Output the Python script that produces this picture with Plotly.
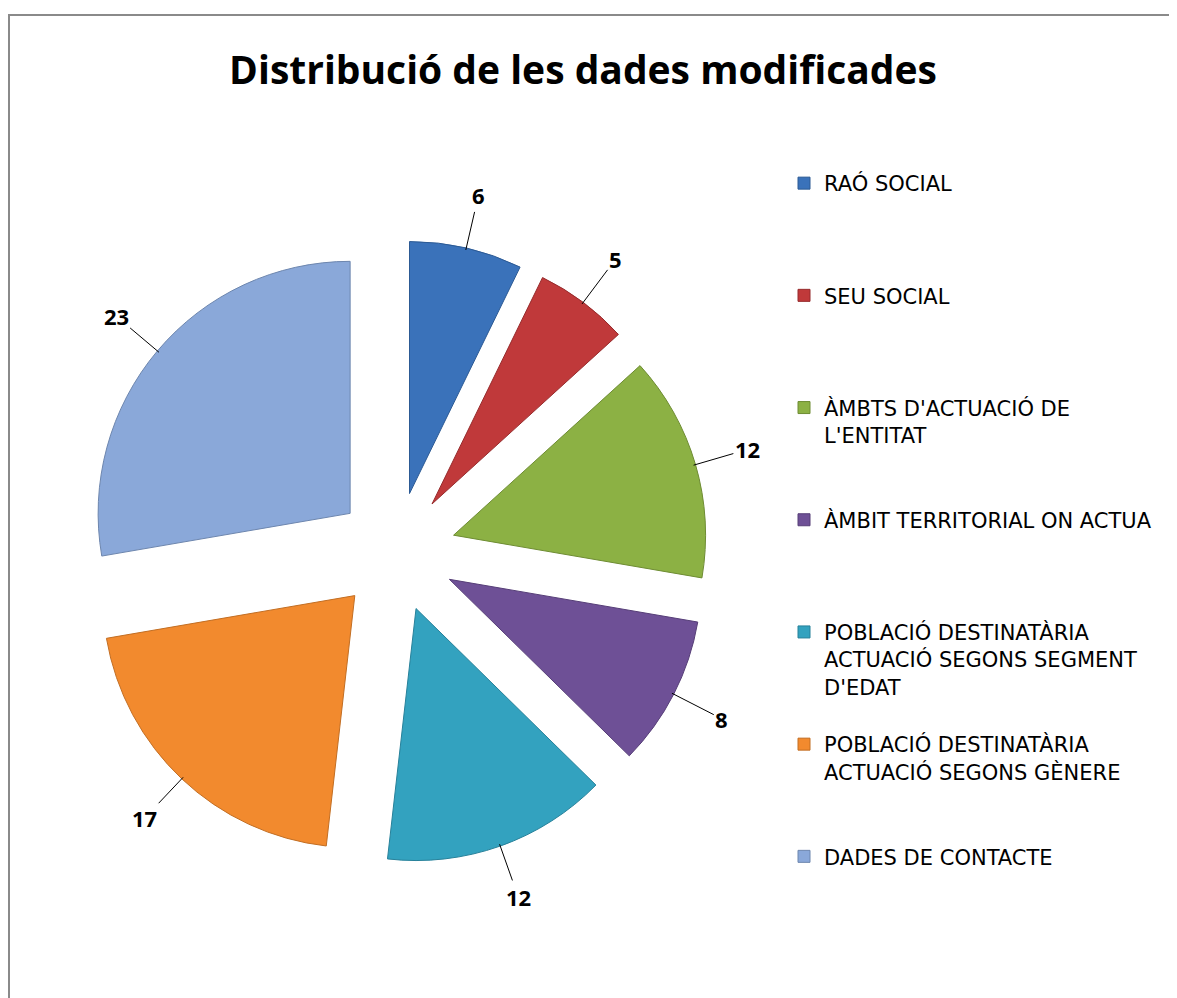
import math
import plotly.graph_objects as go

# ---- data ----
categories = [
    "RAÓ SOCIAL",
    "SEU SOCIAL",
    "ÀMBTS D'ACTUACIÓ DE<br>L'ENTITAT",
    "ÀMBIT TERRITORIAL ON ACTUA",
    "POBLACIÓ DESTINATÀRIA<br>ACTUACIÓ SEGONS SEGMENT<br>D'EDAT",
    "POBLACIÓ DESTINATÀRIA<br>ACTUACIÓ SEGONS GÈNERE",
    "DADES DE CONTACTE",
]
values = [6, 5, 12, 8, 12, 17, 23]
colors = ["#3A72BA", "#C0393A", "#8CB144", "#6E5096", "#33A2BF", "#F28A2E", "#8AA8D9"]
edge_colors = ["#2C5A94", "#962B2C", "#6E8C33", "#563E77", "#27819A", "#C26E23", "#6D86AE"]
title_text = "Distribució de les dades modificades"

# ---- layout constants (page body has an 8px margin, so positions are shifted by 8px) ----
OFF = 8
W, H = 1177 - OFF, 998 - OFF
dom_x = [(84 - OFF) / W, (708 - OFF) / W]
dom_y = [1 - (864 - OFF) / H, 1 - (240 - OFF) / H]
pull = 0.238
LINES_PER_ITEM = 4
FONT = "'Open Sans', Lato, sans-serif"
LEGEND_FONT = "'DejaVu Sans', 'Open Sans', sans-serif"

# pad legend labels so every legend entry takes the same height
legend_labels = []
for c in categories:
    n = c.count("<br>") + 1
    legend_labels.append(c + "<br> " * (LINES_PER_ITEM - n))

fig = go.Figure()
fig.add_trace(go.Pie(
    labels=legend_labels,
    values=values,
    sort=False,
    direction="clockwise",
    rotation=0,
    pull=[pull] * len(values),
    marker=dict(colors=colors, line=dict(width=1, color=edge_colors)),
    textinfo="none",
    domain=dict(x=dom_x, y=dom_y),
    hovertemplate="%{label}: %{value}<extra></extra>",
))

# ---- data labels with leader lines, computed from the values ----
cx = W * (dom_x[0] + dom_x[1]) / 2
cy = H * (1 - (dom_y[0] + dom_y[1]) / 2)
r = min(W * (dom_x[1] - dom_x[0]), H * (dom_y[1] - dom_y[0])) / 2 / (1 + pull)
total = sum(values)
cum = 0
annotations = []
for v in values:
    mid = (cum + v / 2) / total * 2 * math.pi
    cum += v
    rr = r * (1 + pull) - 2
    px = cx + rr * math.sin(mid)
    py = cy - rr * math.cos(mid)
    L = 56
    annotations.append(dict(
        x=px / W, y=1 - py / H, xref="paper", yref="paper",
        text="<b>%d</b>" % v,
        showarrow=True, arrowhead=0, arrowwidth=1, arrowcolor="black",
        ax=L * math.sin(mid), ay=-L * math.cos(mid),
        font=dict(family=FONT, size=22, color="black"),
        standoff=0, startstandoff=0,
    ))

fig.update_layout(
    width=W, height=H,
    margin=dict(l=0, r=0, t=0, b=0),
    paper_bgcolor="white",
    plot_bgcolor="white",
    title=dict(
        text="<b>%s</b>" % title_text,
        x=(583 - OFF) / W, xanchor="center", y=1 - (70 - OFF) / H, yanchor="middle",
        font=dict(family=FONT, size=39, color="black"),
    ),
    legend=dict(
        x=(784 - OFF) / W, xanchor="left",
        y=1 - (163 - OFF) / H, yanchor="top",
        valign="top",
        font=dict(family=LEGEND_FONT, size=21, color="black"),
        bgcolor="rgba(0,0,0,0)",
        traceorder="normal",
    ),
    annotations=annotations,
    shapes=[dict(
        type="rect", xref="paper", yref="paper",
        x0=1 / W, x1=1.05, y0=-0.05, y1=1 - 7 / H,
        line=dict(color="#8a8a8a", width=2),
        fillcolor="rgba(0,0,0,0)", layer="below",
    )],
    showlegend=True,
)

fig.write_html("out.html")
